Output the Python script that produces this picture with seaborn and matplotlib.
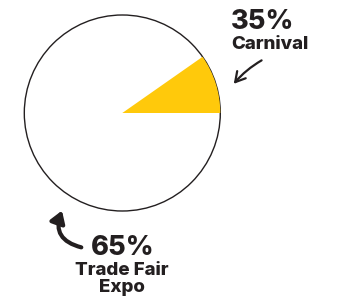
import matplotlib
matplotlib.use("Agg")
import matplotlib.pyplot as plt
import seaborn as sns
from matplotlib.patches import Circle, FancyArrowPatch

# data
labels = ["Carnival", "Trade Fair\nExpo"]
shares = [35, 65]
colors = ["#FFC90B", "white"]
text_color = "#231F20"

sns.set_theme(style="white")
plt.rcParams["font.family"] = ["Inter", "DejaVu Sans"]

fig = plt.figure(figsize=(3.4, 3.01), dpi=100)
ax = fig.add_axes([0, 0, 1, 1])

cx, cy, r = 122.3, 188, 98

# outline of the whole pie
ax.add_patch(Circle((cx, cy), r, facecolor="white", edgecolor=text_color, lw=1.0, zorder=1))

# the highlighted wedge is drawn as degrees of the circle, as in the picture
wedges, _ = ax.pie([shares[0], 360 - shares[0]], colors=colors, startangle=0,
                   center=(cx, cy), radius=r, frame=True,
                   wedgeprops=dict(linewidth=0))
for w in wedges:
    w.set_zorder(2)
wedges[1].set_visible(False)
ax.set_xlim(0, 340)
ax.set_ylim(0, 301)
ax.set_aspect("equal")
ax.axis("off")

# labels
ax.text(231, 301 - 9, f"{shares[0]}%", ha="left", va="top", fontsize=19.5,
        fontweight="heavy", color=text_color)
ax.text(231, 301 - 36, labels[0], ha="left", va="top", fontsize=13.5,
        fontweight="heavy", color=text_color)
ax.text(123, 301 - 235, f"{shares[1]}%", ha="center", va="top", fontsize=19.5,
        fontweight="heavy", color=text_color)
ax.text(122, 301 - 262, labels[1], ha="center", va="top", fontsize=13.5,
        fontweight="heavy", color=text_color, linespacing=1.0)

# arrows
ax.add_patch(FancyArrowPatch((264, 301 - 59), (232, 301 - 86),
                             arrowstyle="->,head_length=7,head_width=4",
                             connectionstyle="arc3,rad=0.1",
                             lw=1.6, color=text_color, zorder=3))
ax.add_patch(FancyArrowPatch((84, 301 - 248), (63, 301 - 208),
                             arrowstyle="-|>,head_length=7,head_width=4.5",
                             connectionstyle="arc3,rad=-0.6",
                             lw=3, color=text_color, zorder=3))

fig.savefig("out.png", dpi=100)
